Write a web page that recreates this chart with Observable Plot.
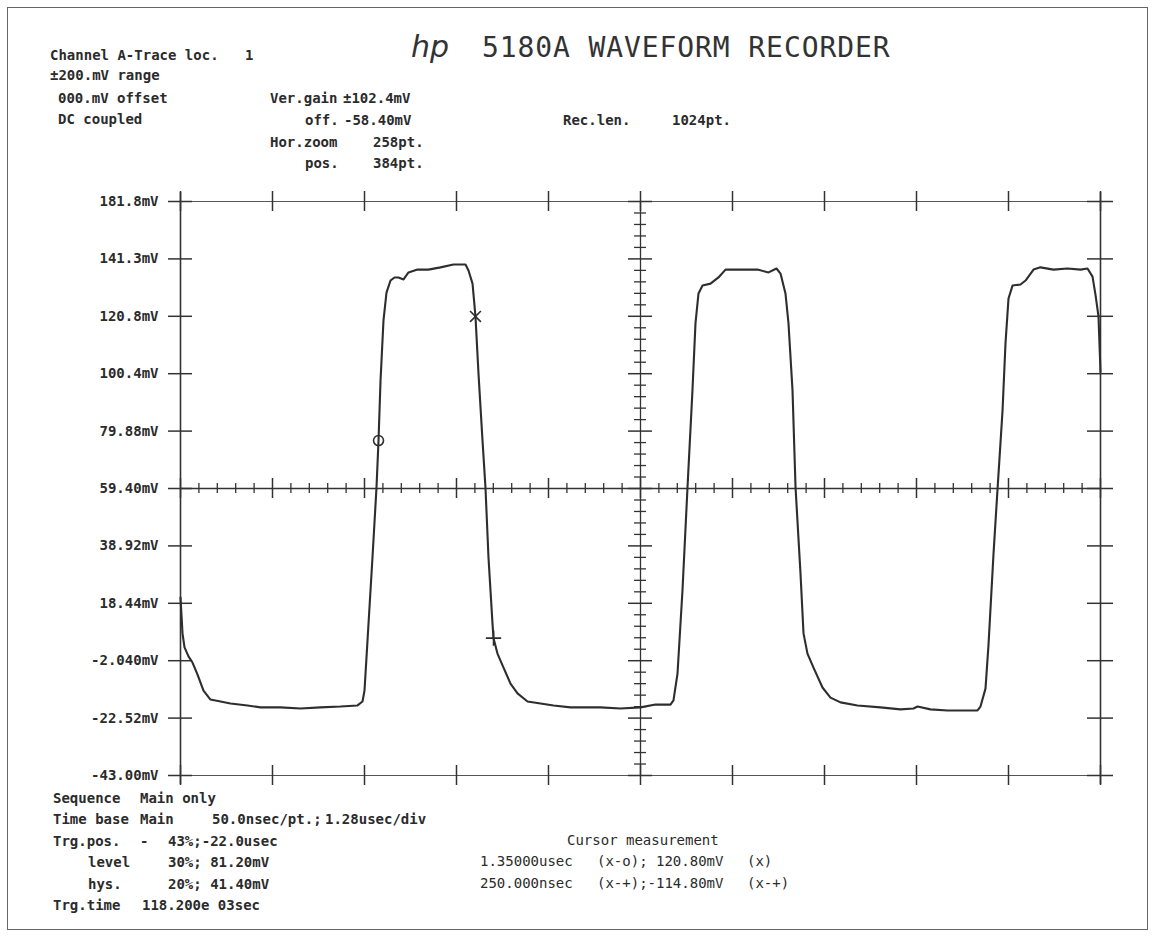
<!DOCTYPE html>
<html>
<head>
<meta charset="utf-8">
<script src="https://cdn.jsdelivr.net/npm/d3@7"></script>
<script src="https://cdn.jsdelivr.net/npm/@observablehq/plot@0.6"></script>
<style>
  body { margin: 0; background: #fff; }
  #page { position: relative; width: 1154px; height: 940px; overflow: hidden; background: #fff;
          font-family: "DejaVu Sans Mono", "Liberation Mono", monospace; color: #2b2b2b; }
  #border { position: absolute; left: 7px; top: 7px; width: 1141px; height: 923px; border: 1.5px solid #666; box-sizing: border-box; }
  .t { position: absolute; white-space: pre; font-size: 14px; line-height: 14px; font-weight: bold; }
  .n { font-weight: normal; }
  #title { position: absolute; left: 482px; top: 34px; font-size: 28px; line-height: 28px; letter-spacing: 0.9px; font-weight: normal; color: #333; white-space: pre; }
  #hp { position: absolute; left: 411px; top: 32px; font-family: "DejaVu Sans", sans-serif; font-style: italic; font-size: 30px; line-height: 30px; font-weight: normal; color: #333; }
  #chart { position: absolute; left: 0; top: 180px; }
</style>
</head>
<body>
<div id="page">
  <div id="border"></div>
  <div id="hp">hp</div>
  <div id="title">5180A WAVEFORM RECORDER</div>

  <div class="t" style="left:50px;top:48px">Channel A-Trace loc.</div>
  <div class="t" style="left:245px;top:48px">1</div>
  <div class="t" style="left:50px;top:68px">±200.mV range</div>
  <div class="t" style="left:58px;top:91px">000.mV offset</div>
  <div class="t" style="left:58px;top:112px">DC coupled</div>
  <div class="t" style="left:270px;top:91px">Ver.gain</div>
  <div class="t" style="left:343px;top:91px">±102.4mV</div>
  <div class="t" style="left:305px;top:113px">off.</div>
  <div class="t" style="left:344px;top:113px">-58.40mV</div>
  <div class="t" style="left:270px;top:135px">Hor.zoom</div>
  <div class="t" style="left:373px;top:135px">258pt.</div>
  <div class="t" style="left:305px;top:156px">pos.</div>
  <div class="t" style="left:373px;top:156px">384pt.</div>
  <div class="t" style="left:563px;top:113px">Rec.len.</div>
  <div class="t" style="left:672px;top:113px">1024pt.</div>

  <div id="chart"></div>

  <div class="t" style="left:53px;top:791px">Sequence</div>
  <div class="t" style="left:140px;top:791px">Main only</div>
  <div class="t" style="left:53px;top:812px">Time base</div>
  <div class="t" style="left:140px;top:812px">Main</div>
  <div class="t" style="left:212px;top:812px">50.0nsec/pt.;</div>
  <div class="t" style="left:325px;top:812px">1.28usec/div</div>
  <div class="t" style="left:53px;top:834px">Trg.pos.</div>
  <div class="t" style="left:140px;top:834px">-</div>
  <div class="t" style="left:168px;top:834px">43%;-22.0usec</div>
  <div class="t" style="left:88px;top:855px">level</div>
  <div class="t" style="left:168px;top:855px">30%; 81.20mV</div>
  <div class="t" style="left:88px;top:877px">hys.</div>
  <div class="t" style="left:168px;top:877px">20%; 41.40mV</div>
  <div class="t" style="left:53px;top:898px">Trg.time</div>
  <div class="t" style="left:142px;top:898px">118.200e 03sec</div>

  <div class="t n" style="left:567px;top:833px">Cursor measurement</div>
  <div class="t n" style="left:480px;top:854px">1.35000usec</div>
  <div class="t n" style="left:597px;top:854px">(x-o); 120.80mV</div>
  <div class="t n" style="left:747px;top:854px">(x)</div>
  <div class="t n" style="left:480px;top:876px">250.000nsec</div>
  <div class="t n" style="left:597px;top:876px">(x-+);-114.80mV</div>
  <div class="t n" style="left:747px;top:876px">(x-+)</div>
</div>

<script>
// ---- data (time in microseconds, voltage in mV) ----
const yTicks = [-43.00, -22.52, -2.04, 18.44, 38.92, 59.40, 79.88, 100.36, 120.84, 141.32, 161.80];
const yTickLabels = ["-43.00mV", "-22.52mV", "-2.040mV", "18.44mV", "38.92mV", "59.40mV", "79.88mV", "100.4mV", "120.8mV", "141.3mV", "181.8mV"];
const xTicks = [0, 1.28, 2.56, 3.84, 5.12, 6.40, 7.68, 8.96, 10.24, 11.52, 12.80];

const traceTime = [
  0.000, 0.014, 0.028, 0.056, 0.111, 0.167, 0.237, 0.320, 0.417, 0.557, 0.696, 0.932,
  1.113, 1.391, 1.670, 1.948, 2.226, 2.463, 2.532, 2.560, 2.602, 2.671, 2.727, 2.755,
  2.783, 2.824, 2.866, 2.922, 2.977, 3.033, 3.103, 3.172, 3.297, 3.450, 3.617, 3.798,
  3.965, 4.007, 4.063, 4.104, 4.146, 4.202, 4.243, 4.285, 4.341, 4.355, 4.410, 4.494,
  4.591, 4.689, 4.828, 5.009, 5.190, 5.426, 5.843, 6.122, 6.400, 6.609, 6.817, 6.859,
  6.915, 6.984, 7.054, 7.123, 7.165, 7.207, 7.263, 7.374, 7.485, 7.583, 7.791, 8.028,
  8.181, 8.292, 8.348, 8.417, 8.459, 8.515, 8.557, 8.626, 8.668, 8.723, 8.807, 8.932,
  9.043, 9.183, 9.419, 9.739, 10.017, 10.198, 10.254, 10.435, 10.671, 11.089, 11.130, 11.200,
  11.242, 11.311, 11.367, 11.437, 11.478, 11.520, 11.576, 11.687, 11.757, 11.868, 11.965, 12.146,
  12.341, 12.522, 12.619, 12.689, 12.730, 12.772, 12.800
];
const traceMv = [
  20.5, 14.1, 7.7, 2.7, -0.5, -2.7, -7.0, -12.7, -15.9, -16.6, -17.3, -18.0,
  -18.7, -18.7, -19.1, -18.7, -18.4, -18.0, -16.6, -12.7, 5.2, 34.8, 59.8, 76.5,
  97.9, 119.3, 129.3, 133.6, 134.7, 134.7, 134.0, 136.5, 137.5, 137.5, 138.3, 139.3,
  139.3, 137.2, 132.5, 120.8, 100.4, 76.5, 59.8, 34.8, 11.2, 6.0, 0.5, -4.5,
  -10.2, -13.7, -16.6, -17.3, -18.0, -18.7, -18.7, -19.1, -18.7, -17.7, -17.7, -16.2,
  -6.6, 23.0, 59.8, 94.4, 118.3, 129.0, 131.8, 132.5, 134.7, 137.5, 137.5, 137.5,
  136.5, 137.9, 136.1, 129.0, 118.3, 94.4, 59.8, 29.1, 7.7, 0.5, -4.5, -11.6,
  -15.2, -16.9, -18.0, -18.7, -19.4, -19.1, -18.4, -19.4, -19.8, -19.8, -18.4, -12.0,
  3.7, 35.9, 59.0, 87.2, 111.1, 127.2, 131.8, 132.2, 133.6, 137.5, 138.3, 137.5,
  137.9, 137.5, 137.9, 135.0, 128.6, 120.8, 101.0
];

const markerTime = [2.755, 4.104, 4.355];
const markerMv = [76.5, 120.8, 6.0];
const markerSymbol = ["circle", "times", "plus"];

// ---- build tables ----
const trace = traceTime.map((t, i) => ({t, v: traceMv[i]}));
const markers = markerTime.map((t, i) => ({t, v: markerMv[i], s: markerSymbol[i]}));
const labelOf = new Map(yTicks.map((d, i) => [d, yTickLabels[i]]));

const xDomain = [xTicks[0], xTicks[xTicks.length - 1]];
const yDomain = [yTicks[0], yTicks[yTicks.length - 1]];
const xMid = xTicks[5], yMid = yTicks[5];
const xStep = xTicks[1] - xTicks[0], yStep = yTicks[1] - yTicks[0];
const xMinor = d3.range(0, 50).map(i => xDomain[0] + i * xStep / 5).filter((d, i) => i % 5 !== 0);
const yMinor = d3.range(0, 50).map(i => yDomain[0] + i * yStep / 5).filter((d, i) => i % 5 !== 0);

const W = 1154, H = 620;
const mL = 180, mR = 54, mT = 21, mB = 25;
const pxX = px => px * (xDomain[1] - xDomain[0]) / (W - mL - mR);
const pxY = px => px * (yDomain[1] - yDomain[0]) / (H - mT - mB);

const ink = "#333";
const chart = Plot.plot({
  width: W, height: H,
  marginLeft: mL, marginRight: mR, marginTop: mT, marginBottom: mB,
  style: {fontFamily: "DejaVu Sans Mono, monospace", fontSize: "14px", fontWeight: "bold", color: "#2b2b2b", background: "transparent"},
  x: {domain: xDomain, axis: null},
  y: {domain: yDomain, axis: null},
  marks: [
    // y tick labels
    Plot.axisY(yTicks, {anchor: "left", label: null, tickSize: 0, tickPadding: 22, tickFormat: d => labelOf.get(d), fontSize: 14, fontWeight: "bold"}),
    // frame lines (left/right extend slightly)
    Plot.ruleY(yDomain, {stroke: "#555", strokeWidth: 1.2, insetLeft: -12, insetRight: -12}),
    Plot.ruleX(xDomain, {stroke: ink, strokeWidth: 1.6, insetTop: -9, insetBottom: -9}),
    // center cross lines
    Plot.ruleX([xMid], {stroke: ink, strokeWidth: 1.3}),
    Plot.ruleY([yMid], {stroke: ink, strokeWidth: 1.3}),
    // crosses on left / right borders
    Plot.ruleY(yTicks, {y: d => d, x1: xDomain[0] - pxX(12), x2: xDomain[0] + pxX(12), stroke: ink, strokeWidth: 1.5}),
    Plot.ruleY(yTicks, {y: d => d, x1: xDomain[1] - pxX(13), x2: xDomain[1] + pxX(13), stroke: ink, strokeWidth: 1.5}),
    // crosses on top / bottom borders
    Plot.ruleX(xTicks, {x: d => d, y1: yDomain[1] - pxY(10), y2: yDomain[1] + pxY(10), stroke: ink, strokeWidth: 1.5}),
    Plot.ruleX(xTicks, {x: d => d, y1: yDomain[0] - pxY(10), y2: yDomain[0] + pxY(10), stroke: ink, strokeWidth: 1.5}),
    // center vertical axis ticks
    Plot.ruleY(yTicks, {y: d => d, x1: xMid - pxX(12), x2: xMid + pxX(12), stroke: ink, strokeWidth: 1.5}),
    Plot.ruleY(yMinor, {y: d => d, x1: xMid - pxX(6), x2: xMid + pxX(6), stroke: ink, strokeWidth: 1.3}),
    // center horizontal axis ticks
    Plot.ruleX(xTicks, {x: d => d, y1: yMid - pxY(10), y2: yMid + pxY(10), stroke: ink, strokeWidth: 1.5}),
    Plot.ruleX(xMinor, {x: d => d, y1: yMid - pxY(5), y2: yMid + pxY(5), stroke: ink, strokeWidth: 1.3}),
    // waveform
    Plot.line(trace, {x: "t", y: "v", stroke: "#2e2e2e", strokeWidth: 2.1, strokeLinejoin: "round"}),
    // cursor markers
    Plot.dot(markers, {x: "t", y: "v", symbol: "s", r: 5, stroke: "#2e2e2e", strokeWidth: 1.6, fill: "none"})
  ]
});
document.getElementById("chart").appendChild(chart);
</script>
</body>
</html>
